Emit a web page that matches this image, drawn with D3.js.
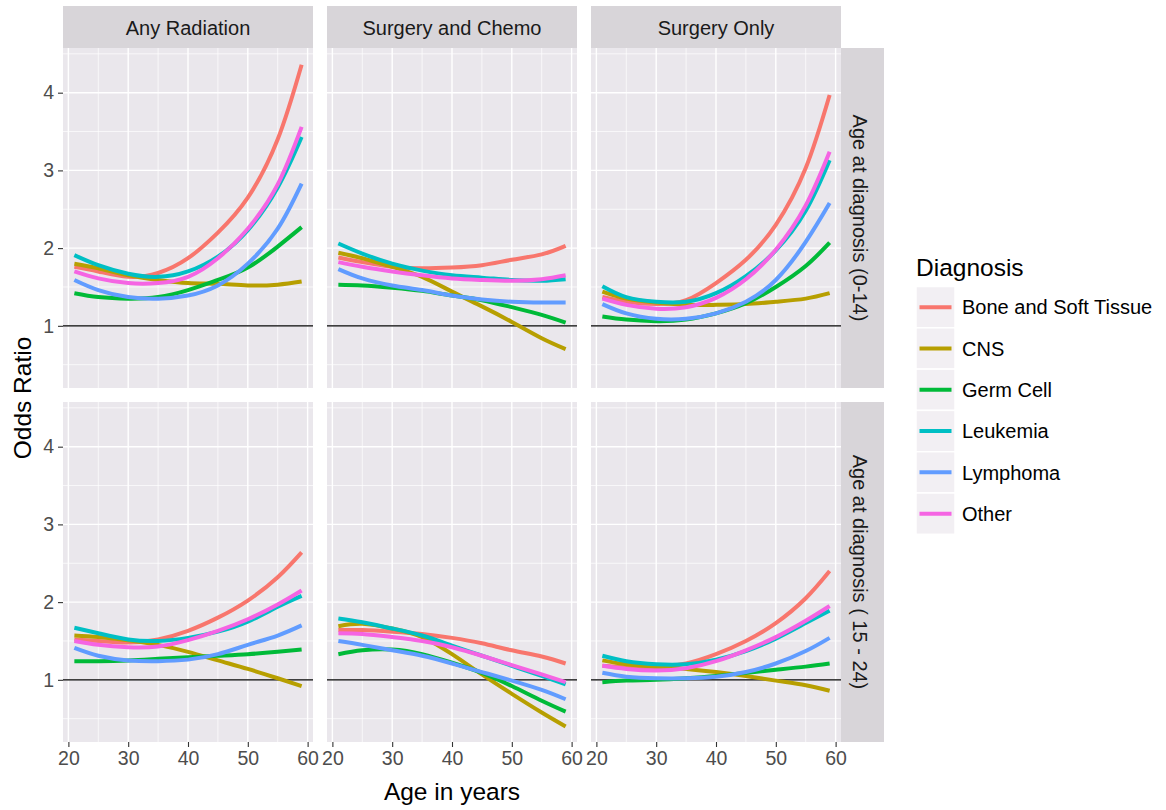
<!DOCTYPE html>
<html>
<head>
<meta charset="utf-8">
<script src="https://cdn.jsdelivr.net/npm/d3@7"></script>
<style>
  body { margin: 0; background: #fff; }
  text { font-family: "Liberation Sans", Arial, sans-serif; }
</style>
</head>
<body>
<svg id="chart"></svg>
<script>
// ages at which the fitted curves are read
const ages = [21, 25, 30, 35, 40, 45, 50, 55, 59];
const diagnoses = ["Bone and Soft Tissue", "CNS", "Germ Cell", "Leukemia", "Lymphoma", "Other"];
const treatments = ["Any Radiation", "Surgery and Chemo", "Surgery Only"];
const ageGroups = ["Age at diagnosis (0-14)", "Age at diagnosis ( 15 - 24)"];
const xTicks = [20, 30, 40, 50, 60];
const yTicks = [1, 2, 3, 4];

// odds ratios, one row per diagnosis (same order as diagnoses)
const radiationYoung = [
  [1.76, 1.70, 1.63, 1.68, 1.87, 2.20, 2.65, 3.40, 4.36],
  [1.80, 1.74, 1.65, 1.59, 1.55, 1.54, 1.52, 1.53, 1.57],
  [1.42, 1.37, 1.35, 1.37, 1.46, 1.59, 1.75, 2.02, 2.27],
  [1.91, 1.78, 1.67, 1.63, 1.70, 1.89, 2.23, 2.78, 3.43],
  [1.59, 1.46, 1.37, 1.35, 1.39, 1.52, 1.80, 2.25, 2.83],
  [1.70, 1.61, 1.55, 1.55, 1.63, 1.87, 2.25, 2.82, 3.56]
];
const chemoYoung = [
  [1.88, 1.82, 1.76, 1.74, 1.75, 1.78, 1.85, 1.92, 2.03],
  [1.94, 1.87, 1.76, 1.63, 1.44, 1.25, 1.05, 0.84, 0.70],
  [1.53, 1.52, 1.49, 1.45, 1.39, 1.33, 1.24, 1.14, 1.04],
  [2.06, 1.93, 1.80, 1.71, 1.65, 1.62, 1.59, 1.58, 1.60],
  [1.73, 1.61, 1.52, 1.46, 1.39, 1.34, 1.31, 1.30, 1.30],
  [1.82, 1.76, 1.70, 1.65, 1.61, 1.59, 1.58, 1.60, 1.65]
];
const surgeryYoung = [
  [1.37, 1.31, 1.28, 1.33, 1.55, 1.85, 2.30, 3.03, 3.97],
  [1.44, 1.35, 1.30, 1.27, 1.27, 1.28, 1.31, 1.35, 1.42],
  [1.12, 1.08, 1.06, 1.08, 1.16, 1.29, 1.50, 1.77, 2.07],
  [1.51, 1.37, 1.31, 1.31, 1.42, 1.64, 1.97, 2.48, 3.13],
  [1.28, 1.16, 1.09, 1.09, 1.16, 1.31, 1.59, 2.08, 2.58],
  [1.35, 1.27, 1.22, 1.24, 1.36, 1.60, 1.98, 2.55, 3.24]
];
const radiationOlder = [
  [1.52, 1.50, 1.48, 1.52, 1.63, 1.80, 2.02, 2.32, 2.64],
  [1.57, 1.55, 1.51, 1.45, 1.36, 1.25, 1.14, 1.02, 0.92],
  [1.24, 1.24, 1.25, 1.27, 1.29, 1.31, 1.33, 1.36, 1.39],
  [1.67, 1.60, 1.52, 1.50, 1.54, 1.62, 1.75, 1.94, 2.08],
  [1.41, 1.31, 1.25, 1.24, 1.26, 1.33, 1.45, 1.57, 1.70],
  [1.50, 1.45, 1.42, 1.43, 1.51, 1.63, 1.78, 1.97, 2.15]
];
const chemoOlder = [
  [1.64, 1.64, 1.62, 1.59, 1.54, 1.47, 1.38, 1.30, 1.21],
  [1.69, 1.72, 1.66, 1.55, 1.33, 1.07, 0.82, 0.58, 0.40],
  [1.33, 1.38, 1.39, 1.33, 1.22, 1.09, 0.92, 0.73, 0.59],
  [1.79, 1.74, 1.66, 1.57, 1.44, 1.31, 1.18, 1.05, 0.94],
  [1.50, 1.45, 1.38, 1.31, 1.21, 1.10, 0.99, 0.87, 0.75],
  [1.60, 1.59, 1.55, 1.50, 1.42, 1.31, 1.19, 1.07, 0.97]
];
const surgeryOlder = [
  [1.18, 1.16, 1.16, 1.21, 1.33, 1.50, 1.73, 2.05, 2.40],
  [1.25, 1.20, 1.17, 1.14, 1.10, 1.05, 0.99, 0.93, 0.86],
  [0.97, 0.99, 1.00, 1.02, 1.05, 1.09, 1.13, 1.17, 1.21],
  [1.31, 1.24, 1.20, 1.20, 1.26, 1.37, 1.53, 1.73, 1.89],
  [1.09, 1.04, 1.02, 1.02, 1.04, 1.10, 1.21, 1.37, 1.54],
  [1.18, 1.14, 1.12, 1.15, 1.24, 1.38, 1.55, 1.76, 1.95]
];

const panels = [
  [radiationYoung, chemoYoung, surgeryYoung],
  [radiationOlder, chemoOlder, surgeryOlder]
];

const colors = ["#F8766D", "#B79F00", "#00BA38", "#00BFC4", "#619CFF", "#F564E3"];

// layout
const width = 1166, height = 810;
const panelW = 250, panelH = 340, gap = 14;
const plotLeft = 63, plotTop = 48, stripH = 42, stripW = 43;

const svg = d3.select("#chart")
  .attr("width", width)
  .attr("height", height)
  .style("background", "#fff");

const x = d3.scaleLinear().domain([19.1, 60.9]).range([0, panelW]);
const y = d3.scaleLinear().domain([0.2, 4.575]).range([panelH, 0]);

const line = d3.line()
  .x((d, i) => x(ages[i]))
  .y(d => y(d))
  .curve(d3.curveNatural);

panels.forEach((row, r) => {
  row.forEach((series, c) => {
    const px = plotLeft + c * (panelW + gap);
    const py = plotTop + r * (panelH + gap);
    const g = svg.append("g").attr("transform", `translate(${px},${py})`);

    // panel background
    g.append("rect")
      .attr("width", panelW)
      .attr("height", panelH)
      .attr("fill", "#EAE7EC");

    // minor grid
    [25, 35, 45, 55].forEach(v => {
      g.append("line")
        .attr("x1", x(v)).attr("x2", x(v))
        .attr("y1", 0).attr("y2", panelH)
        .attr("stroke", "#fff").attr("stroke-width", 0.7);
    });
    [0.5, 1.5, 2.5, 3.5, 4.5].forEach(v => {
      g.append("line")
        .attr("x1", 0).attr("x2", panelW)
        .attr("y1", y(v)).attr("y2", y(v))
        .attr("stroke", "#fff").attr("stroke-width", 0.7);
    });

    // major grid
    xTicks.forEach(v => {
      g.append("line")
        .attr("x1", x(v)).attr("x2", x(v))
        .attr("y1", 0).attr("y2", panelH)
        .attr("stroke", "#fff").attr("stroke-width", 1.4);
    });
    yTicks.forEach(v => {
      g.append("line")
        .attr("x1", 0).attr("x2", panelW)
        .attr("y1", y(v)).attr("y2", y(v))
        .attr("stroke", "#fff").attr("stroke-width", 1.4);
    });

    // reference line at odds ratio 1
    g.append("line")
      .attr("x1", 0).attr("x2", panelW)
      .attr("y1", y(1)).attr("y2", y(1))
      .attr("stroke", "#000").attr("stroke-width", 1.3);

    // fitted curves
    series.forEach((vals, k) => {
      g.append("path")
        .datum(vals)
        .attr("d", line)
        .attr("fill", "none")
        .attr("stroke", colors[k])
        .attr("stroke-width", 4)
        .attr("stroke-linecap", "butt");
    });

    // y axis on first column
    if (c === 0) {
      const ya = g.append("g")
        .call(d3.axisLeft(y).tickValues(yTicks).tickFormat(d3.format("d"))
          .tickSize(5).tickPadding(4));
      ya.select(".domain").remove();
      ya.selectAll("line").attr("stroke", "#333").attr("stroke-width", 1.1);
      ya.selectAll("text").attr("fill", "#4d4d4d").style("font-size", "19.5px")
        .style("font-family", "'Liberation Sans', Arial, sans-serif");
    }

    // x axis on bottom row
    if (r === 1) {
      const xa = g.append("g")
        .attr("transform", `translate(0,${panelH})`)
        .call(d3.axisBottom(x).tickValues(xTicks).tickSize(5).tickPadding(4));
      xa.select(".domain").remove();
      xa.selectAll("line").attr("stroke", "#333").attr("stroke-width", 1.1);
      xa.selectAll("text").attr("fill", "#4d4d4d").style("font-size", "19.5px")
        .style("font-family", "'Liberation Sans', Arial, sans-serif");
    }

    // column strips
    if (r === 0) {
      svg.append("rect")
        .attr("x", px).attr("y", plotTop - stripH)
        .attr("width", panelW).attr("height", stripH)
        .attr("fill", "#D8D5D9");
      svg.append("text")
        .attr("x", px + panelW / 2).attr("y", plotTop - stripH / 2)
        .attr("dy", "0.4em")
        .attr("text-anchor", "middle")
        .attr("fill", "#1a1a1a")
        .style("font-size", "20px")
        .text(treatments[c]);
    }

    // row strips
    if (c === 2) {
      svg.append("rect")
        .attr("x", px + panelW).attr("y", py)
        .attr("width", stripW).attr("height", panelH)
        .attr("fill", "#D8D5D9");
      svg.append("text")
        .attr("transform", `translate(${px + panelW + stripW / 2 - 2},${py + panelH / 2}) rotate(90)`)
        .attr("dy", "0.36em")
        .attr("text-anchor", "middle")
        .attr("fill", "#1a1a1a")
        .style("font-size", "20px")
        .text(ageGroups[r]);
    }
  });
});

// axis titles
const plotRight = plotLeft + 3 * panelW + 2 * gap;
svg.append("text")
  .attr("x", (plotLeft + plotRight) / 2)
  .attr("y", 800)
  .attr("text-anchor", "middle")
  .style("font-size", "24.5px")
  .text("Age in years");

svg.append("text")
  .attr("transform", `translate(31,${plotTop + panelH + gap / 2 + 3}) rotate(-90)`)
  .attr("text-anchor", "middle")
  .style("font-size", "24.5px")
  .text("Odds Ratio");

// legend
const legend = svg.append("g").attr("transform", "translate(916,0)");
legend.append("text")
  .attr("x", 0).attr("y", 276)
  .style("font-size", "24.5px")
  .text("Diagnosis");

const keyH = 41.3, keyW = 39, keyTop = 286.5;
diagnoses.forEach((name, i) => {
  const ky = keyTop + i * keyH;
  legend.append("rect")
    .attr("x", 0).attr("y", ky)
    .attr("width", keyW).attr("height", keyH)
    .attr("fill", "#F2EFF3")
    .attr("stroke", "#fff").attr("stroke-width", 1.5);
  legend.append("line")
    .attr("x1", 3.5).attr("x2", keyW - 3.5)
    .attr("y1", ky + keyH / 2).attr("y2", ky + keyH / 2)
    .attr("stroke", colors[i]).attr("stroke-width", 4);
  legend.append("text")
    .attr("x", 46).attr("y", ky + keyH / 2)
    .attr("dy", "0.36em")
    .style("font-size", "20px")
    .text(name);
});
</script>
</body>
</html>
